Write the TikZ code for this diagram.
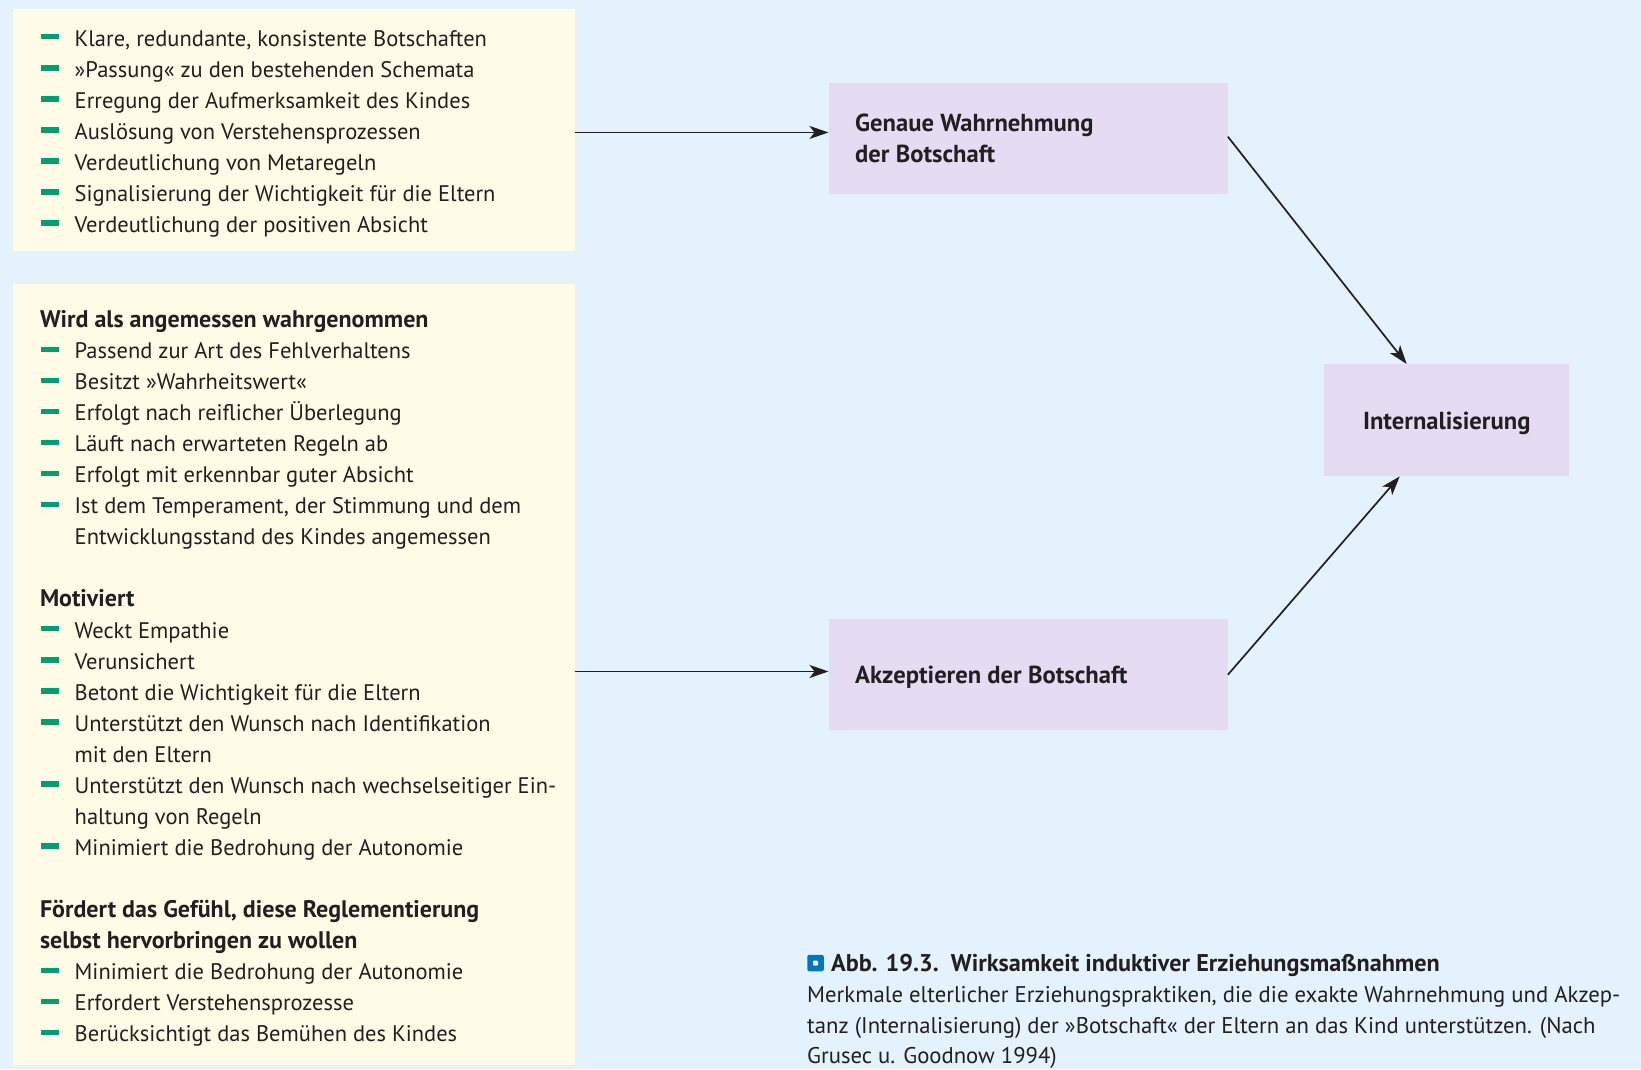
\documentclass[tikz,border=0pt]{standalone}
\usepackage{fontspec}
\setmainfont{PT Sans}
\usetikzlibrary{arrows.meta,calc}
\definecolor{bg}{RGB}{227,242,252}
\definecolor{cream}{RGB}{254,251,230}
\definecolor{lav}{RGB}{229,220,244}
\definecolor{dashgreen}{RGB}{0,158,112}
\definecolor{ink}{RGB}{35,31,32}
\definecolor{iconblue}{RGB}{0,118,190}
\tikzset{
  panel/.style={fill=cream, draw=none, inner sep=0pt, anchor=north west},
  stage/.style={fill=lav, draw=none, inner sep=0pt, anchor=north west},
  txt/.style={anchor=base west, inner sep=0pt, text=ink, font=\fontsize{22.5}{28}\selectfont},
  captxt/.style={txt, font=\fontsize{22.7}{28}\selectfont},
  hd/.style={txt, font=\fontsize{24}{28}\selectfont\bfseries},
  stagetxt/.style={inner sep=0pt, text=ink, font=\fontsize{24.6}{31}\selectfont\bfseries},
  bullet/.style={fill=dashgreen, draw=none, inner sep=0pt, minimum width=18pt, minimum height=5.5pt, anchor=west},
  arr/.style={draw=ink, line width=1.7pt, -{Stealth[length=19pt,width=13pt,inset=5pt]}},
}
\newcommand{\itemline}[3]{% name, baseline y, text
  \node[bullet] (b#1) at (40.5,#2-9.3) {};
  \node[txt] (t#1) at (74.5,#2) {#3};
}
\begin{document}
\begin{tikzpicture}[x=1pt,y=-1pt]
\useasboundingbox (0,0) rectangle (1641,1069);
\fill[bg] (0,0) rectangle (1641,1069);
% panels
\node[panel, minimum width=562pt, minimum height=242.5pt] (topbox) at (12.5,8.5) {};
\node[panel, minimum width=562pt, minimum height=780.5pt] (midbox) at (12.5,284) {};
% stages
\node[stage, minimum width=399pt, minimum height=111pt] (perc) at (828.5,83) {};
\node[stage, minimum width=399pt, minimum height=111pt] (acc) at (828.5,619) {};
\node[stage, minimum width=245pt, minimum height=112pt] (intern) at (1324,364) {};
\node[stagetxt, align=left, anchor=base west] (perct) at (855,162.5) {Genaue Wahrnehmung\\der Botschaft};
\node[stagetxt, anchor=base west] (acct) at (855,683) {Akzeptieren der Botschaft};
\node[stagetxt] (internt) at ($(intern.center)+(0,3)$) {Internalisierung};
% top list
\itemline{a1}{46}{Klare, redundante, konsistente Botschaften}
\itemline{a2}{77.05}{»Passung« zu den bestehenden Schemata}
\itemline{a3}{108.1}{Erregung der Aufmerksamkeit des Kindes}
\itemline{a4}{139.15}{Auslösung von Verstehensprozessen}
\itemline{a5}{170.2}{Verdeutlichung von Metaregeln}
\itemline{a6}{201.25}{Signalisierung der Wichtigkeit für die Eltern}
\itemline{a7}{232.3}{Verdeutlichung der positiven Absicht}
% middle list
\node[hd] (h1) at (39.8,327.5) {Wird als angemessen wahrgenommen};
\itemline{c1}{358.6}{Passend zur Art des Fehlverhaltens}
\itemline{c2}{389.6}{Besitzt »Wahrheitswert«}
\itemline{c3}{420.7}{Erfolgt nach reiflicher Überlegung}
\itemline{c4}{451.7}{Läuft nach erwarteten Regeln ab}
\itemline{c5}{482.8}{Erfolgt mit erkennbar guter Absicht}
\itemline{c6}{513.8}{Ist dem Temperament, der Stimmung und dem}
\node[txt] (c6b) at (74.5,544.9) {Entwicklungsstand des Kindes angemessen};
\node[hd] (h2) at (39.8,606) {Motiviert};
\itemline{d1}{638}{Weckt Empathie}
\itemline{d2}{669.1}{Verunsichert}
\itemline{d3}{700.1}{Betont die Wichtigkeit für die Eltern}
\itemline{d4}{731.2}{Unterstützt den Wunsch nach Identifikation}
\node[txt] (d4b) at (74.5,762.2) {mit den Eltern};
\itemline{d5}{793.3}{Unterstützt den Wunsch nach wechselseitiger Ein-}
\node[txt] (d5b) at (74.5,824.3) {haltung von Regeln};
\itemline{d6}{855.4}{Minimiert die Bedrohung der Autonomie}
\node[hd] (h3) at (39.8,917.5) {Fördert das Gefühl, diese Reglementierung};
\node[hd] (h3b) at (39.8,948.5) {selbst hervorbringen zu wollen};
\itemline{e1}{979.6}{Minimiert die Bedrohung der Autonomie}
\itemline{e2}{1010.6}{Erfordert Verstehensprozesse}
\itemline{e3}{1041.7}{Berücksichtigt das Bemühen des Kindes}
% arrows
\coordinate (s1) at ($(topbox.east)+(0,2.5)$);
\coordinate (s2) at ($(midbox.east)+(0,-3)$);
\draw[arr] (s1) -- (s1 -| perc.west);
\draw[arr] (s2) -- (s2 -| acc.west);
\draw[arr] ($(perc.east)+(0,-2)$) -- ($(intern.north)+(-40,0)$);
\draw[arr] (acc.east) -- ($(intern.south)+(-47,0)$);
% caption
\node[fill=iconblue, rounded corners=2pt, minimum width=16.5pt, minimum height=16.5pt, inner sep=0pt] (icon) at (815.5,963) {};
\node[fill=white, minimum width=5pt, minimum height=5pt, inner sep=0pt, rounded corners=1pt] (icondot) at (icon.center) {};
\node[txt, font=\fontsize{24.2}{28}\selectfont\bfseries] (cap1) at (831,971.5) {Abb. 19.3.\ \ Wirksamkeit induktiver Erziehungsmaßnahmen};
\node[captxt] (cap2) at (807,1002.5) {Merkmale elterlicher Erziehungspraktiken, die die exakte Wahrnehmung und Akzep-};
\node[captxt] (cap3) at (807,1033) {tanz (Internalisierung) der »Botschaft« der Eltern an das Kind unterstützen. (Nach};
\node[captxt] (cap4) at (807,1063.5) {Grusec u. Goodnow 1994)};
\end{tikzpicture}
\end{document}
